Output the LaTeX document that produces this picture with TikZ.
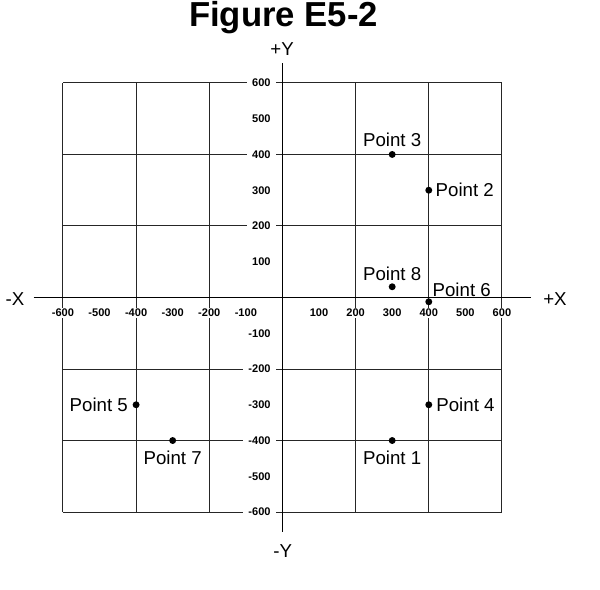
\documentclass[tikz,border=0pt]{standalone}
\usepackage{fontspec}
\setmainfont{Liberation Sans}
\usetikzlibrary{positioning}

\begin{document}
\begin{tikzpicture}[x=0.2743pt,y=0.2681pt,
  gridline/.style={black!85,line width=0.75pt},
  axisline/.style={black,line width=0.75pt},
  ticklab/.style={fill=white,inner sep=1pt,font=\fontsize{8.3}{9}\selectfont\bfseries},
  ytick/.style={ticklab,inner xsep=4pt,anchor=east},
  ptlabel/.style={inner sep=1pt,font=\fontsize{14}{16}\selectfont},
  axlabel/.style={inner sep=1pt,font=\fontsize{14}{16}\selectfont}]
\useasboundingbox (-772,-816) rectangle (868,832);
\node[font=\fontsize{26}{30}\selectfont\bfseries,anchor=base] (title) at (3,757) {Figure E5-2};
% grid
\foreach \g in {-600,-400,...,600}
{
\draw[gridline] (\g,-600) -- (\g,600);
\draw[gridline] (-600,\g) -- (600,\g);
}
% tick labels
\foreach \v [count=\i] in {-600,-500,...,-100,100,200,...,600}
{
\node[ticklab] (tx\i) at (\v,-43) {\v};
\node[ytick] (ty\i) at (-17,\v) {\v};
}
% axes
\coordinate (xa) at (-680,0);
\coordinate (xb) at (680,0);
\coordinate (ya) at (0,-655);
\coordinate (yb) at (0,655);
\draw[axisline] (xa) -- (xb);
\draw[axisline] (ya) -- (yb);
\node[axlabel] (xm) at (-731,-4) {-X};
\node[axlabel] (xp) at (745,-4) {+X};
\node[axlabel] (yp) at (-1,695) {+Y};
\node[axlabel] (ym) at (1,-709) {-Y};
% points
\foreach \n/\px/\py in {1/300/-400,2/400/300,3/300/400,4/400/-300,5/-400/-300,6/400/-12,7/-300/-400,8/300/30}
{
\coordinate (P\n) at (\px,\py);
\fill (P\n) circle (2.6pt);
}
\node[ptlabel,below=7pt of P1] (L1) {Point 1};
\node[ptlabel,right=4pt of P2] (L2) {Point 2};
\node[ptlabel,above=4.6pt of P3] (L3) {Point 3};
\node[ptlabel,right=4.5pt of P4] (L4) {Point 4};
\node[ptlabel,left=5pt of P5] (L5) {Point 5};
\node[ptlabel,above right=2.4pt and 1.7pt of P6] (L6) {Point 6};
\node[ptlabel,below=7pt of P7] (L7) {Point 7};
\node[ptlabel,above=3.1pt of P8] (L8) {Point 8};
\end{tikzpicture}
\end{document}
